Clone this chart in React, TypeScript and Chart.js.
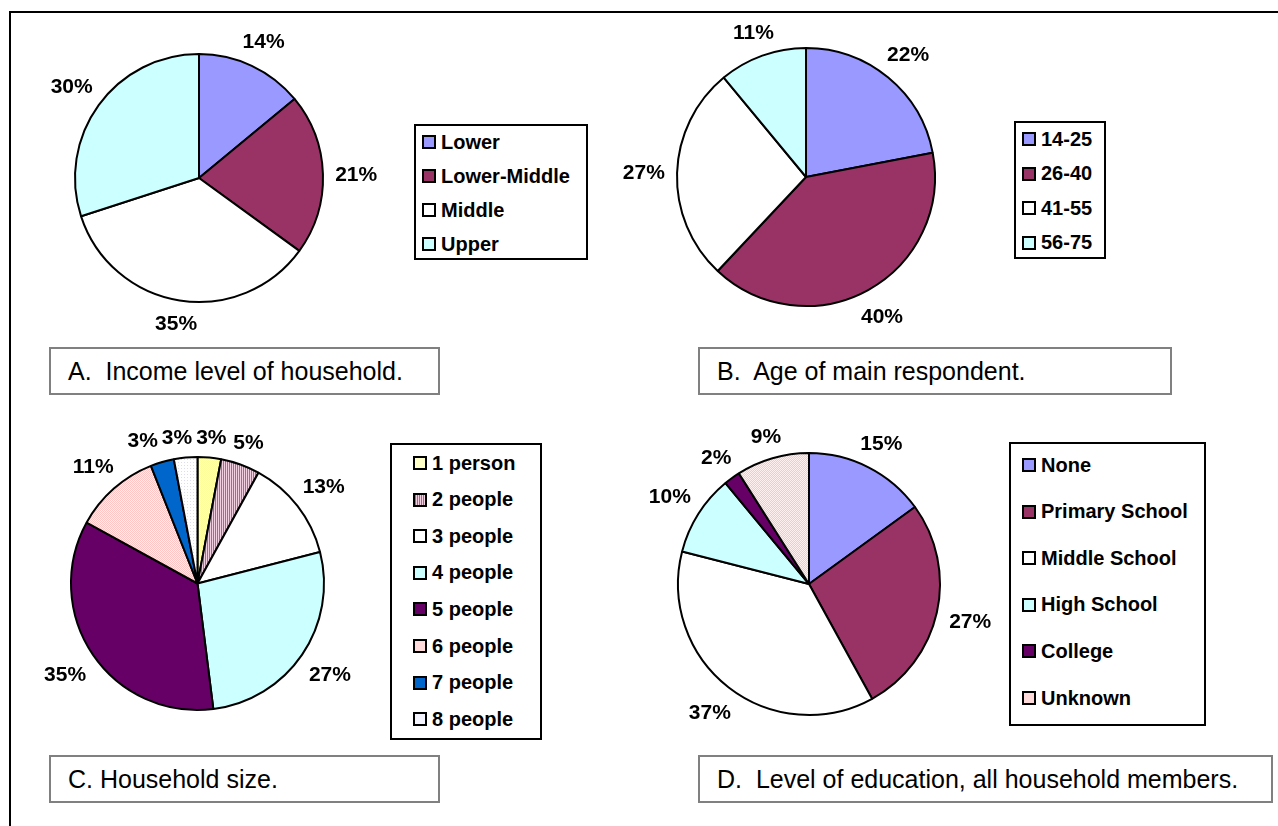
import React, { useEffect, useRef } from 'react';
import { Chart, registerables } from 'chart.js';

Chart.register(...registerables);

// ---------- data ----------
const incomeLabels = ['Lower', 'Lower-Middle', 'Middle', 'Upper'];
const incomeValues = [14, 21, 35, 30];

const ageLabels = ['14-25', '26-40', '41-55', '56-75'];
const ageValues = [22, 40, 27, 11];

const sizeLabels = ['1 person', '2 people', '3 people', '4 people', '5 people', '6 people', '7 people', '8 people'];
const sizeValues = [3, 5, 13, 27, 35, 11, 3, 3];

const eduLabels = ['None', 'Primary School', 'Middle School', 'High School', 'College', 'Unknown'];
const eduValues = [15, 27, 37, 10, 2, 9];

const captionA = 'A.  Income level of household.';
const captionB = 'B.  Age of main respondent.';
const captionC = 'C. Household size.';
const captionD = 'D.  Level of education, all household members.';

// ---------- styles ----------
const incomeFills = ['#9999FF', '#993366', '#FFFFFF', '#CCFFFF'];
const ageFills = ['#9999FF', '#993366', '#FFFFFF', '#CCFFFF'];
const sizeFills = ['pat:yellow', 'pat:stripes', '#FFFFFF', '#CCFFFF', '#660066', 'pat:pink', '#0066CC', 'pat:dots'];
const eduFills = ['#9999FF', '#993366', '#FFFFFF', '#CCFFFF', '#660066', 'pat:pink'];

const swatchCss: Record<string, string> = {
  'pat:yellow': '#FFFFC8',
  'pat:stripes': 'repeating-linear-gradient(90deg, #B8608C 0px 1px, #F2D0E2 1px 2px)',
  'pat:pink': '#FFDADA',
  'pat:dots': '#F4F4FF',
};

const FONT = '"Liberation Sans", Arial, Helvetica, sans-serif';

function makePattern(key: string): CanvasPattern | string {
  const c = document.createElement('canvas');
  const ctx = c.getContext('2d');
  if (!ctx) return '#fff';
  if (key === 'yellow') {
    c.width = 2; c.height = 2;
    ctx.fillStyle = '#FFFFE8'; ctx.fillRect(0, 0, 2, 2);
    ctx.fillStyle = '#FFFF99'; ctx.fillRect(0, 0, 1, 1); ctx.fillRect(1, 1, 1, 1);
  } else if (key === 'stripes') {
    c.width = 2; c.height = 1;
    ctx.fillStyle = '#B8608C'; ctx.fillRect(0, 0, 1, 1);
    ctx.fillStyle = '#F2D0E2'; ctx.fillRect(1, 0, 1, 1);
  } else if (key === 'pink') {
    c.width = 2; c.height = 2;
    ctx.fillStyle = '#FFF0F0'; ctx.fillRect(0, 0, 2, 2);
    ctx.fillStyle = '#FFC4C4'; ctx.fillRect(0, 0, 1, 1); ctx.fillRect(1, 1, 1, 1);
  } else {
    c.width = 3; c.height = 3;
    ctx.fillStyle = '#FFFFFF'; ctx.fillRect(0, 0, 3, 3);
    ctx.fillStyle = '#DCDCF4'; ctx.fillRect(0, 0, 1, 1);
  }
  return ctx.createPattern(c, 'repeat') || '#fff';
}

type LabelItem = { i: number; x: number; y: number; w: number; text: string };

const pctLabels = {
  id: 'pctLabels',
  afterDatasetsDraw(chart: any, _args: any, opts: any) {
    const ctx = chart.ctx as CanvasRenderingContext2D;
    const meta = chart.getDatasetMeta(0);
    const data = chart.data.datasets[0].data as number[];
    ctx.save();
    ctx.font = `bold 21px ${FONT}`;
    ctx.fillStyle = '#000';
    ctx.textAlign = 'center';
    ctx.textBaseline = 'alphabetic';
    const h = 15;
    let cx = 0;
    const items: LabelItem[] = meta.data.map((arc: any, i: number) => {
      const p = arc.getProps(['x', 'y', 'startAngle', 'endAngle', 'outerRadius'], true);
      cx = p.x;
      const a = (p.startAngle + p.endAngle) / 2;
      const text = `${data[i]}%`;
      const w = ctx.measureText(text).width;
      const proj = Math.abs(Math.cos(a)) * w / 2 + Math.abs(Math.sin(a)) * h / 2;
      const d = p.outerRadius + (opts.gap ?? 12) + proj;
      return { i, x: p.x + Math.cos(a) * d, y: p.y + Math.sin(a) * d, w, text };
    });
    // simple overlap avoidance: right side clockwise, left side counter-clockwise
    const placed: LabelItem[] = [];
    const pad = 4;
    const hits = (a: LabelItem, b: LabelItem) =>
      Math.abs(a.x - b.x) < (a.w + b.w) / 2 + pad && Math.abs(a.y - b.y) < h + 2;
    const right = items.filter((it) => it.x >= cx);
    const left = items.filter((it) => it.x < cx).reverse();
    for (const it of right) {
      for (let k = 0; k < 5; k++) {
        let moved = false;
        for (const q of placed) {
          if (hits(it, q)) { it.x = q.x + (q.w + it.w) / 2 + pad; moved = true; }
        }
        if (!moved) break;
      }
      placed.push(it);
    }
    for (const it of left) {
      for (let k = 0; k < 5; k++) {
        let moved = false;
        for (const q of placed) {
          if (hits(it, q)) { it.x = q.x - (q.w + it.w) / 2 - pad; moved = true; }
        }
        if (!moved) break;
      }
      placed.push(it);
    }
    for (const it of items) ctx.fillText(it.text, it.x, it.y + h / 2);
    ctx.restore();
  },
};

type PieProps = { cx: number; cy: number; r: number; labels: string[]; values: number[]; fills: string[] };

function Pie({ cx, cy, r, labels, values, fills }: PieProps) {
  const ref = useRef<HTMLCanvasElement | null>(null);
  const W = Math.round(2 * (r + 64));
  const H = Math.round(2 * (r + 40));
  useEffect(() => {
    if (!ref.current) return;
    const bg = fills.map((f) => (f.startsWith('pat:') ? makePattern(f.slice(4)) : f));
    const chart = new Chart(ref.current, {
      type: 'pie',
      data: {
        labels,
        datasets: [{ data: values, backgroundColor: bg as any, borderColor: '#000', borderWidth: 2, radius: r } as any],
      },
      options: {
        animation: false,
        responsive: false,
        layout: { padding: 0 },
        plugins: { legend: { display: false }, tooltip: { enabled: false }, pctLabels: { gap: 12 } } as any,
      },
      plugins: [pctLabels as any],
    });
    return () => chart.destroy();
  }, []);
  return (
    <canvas
      ref={ref}
      width={W}
      height={H}
      style={{ position: 'absolute', left: cx - W / 2, top: cy - H / 2, width: W, height: H }}
    />
  );
}

type LegendProps = {
  left: number; top: number; width: number; height: number;
  firstY: number; rowH: number; padLeft: number;
  labels: string[]; fills: string[];
};

function Legend({ left, top, width, height, firstY, rowH, padLeft, labels, fills }: LegendProps) {
  return (
    <div style={{ position: 'absolute', left, top, width, height, boxSizing: 'border-box', border: '2px solid #000', background: '#fff' }}>
      {labels.map((l, i) => (
        <div
          key={i}
          style={{
            position: 'absolute', left: padLeft - 2, top: firstY + i * rowH - top - 2 - 12, height: 24,
            display: 'flex', alignItems: 'center', font: `bold 20px ${FONT}`, whiteSpace: 'nowrap', color: '#000',
          }}
        >
          <span
            style={{
              display: 'inline-block', width: 14, height: 14, boxSizing: 'border-box', border: '2px solid #000',
              background: swatchCss[fills[i]] || fills[i], marginRight: 5, flex: 'none',
            }}
          />
          {l}
        </div>
      ))}
    </div>
  );
}

function Caption({ left, top, width, text }: { left: number; top: number; width: number; text: string }) {
  return (
    <div
      style={{
        position: 'absolute', left, top, width, height: 48, boxSizing: 'border-box', border: '2px solid #808080',
        background: '#fff', font: `25px ${FONT}`, display: 'flex', alignItems: 'center', paddingLeft: 17,
        whiteSpace: 'pre', color: '#000',
      }}
    >
      {text}
    </div>
  );
}

export default function App() {
  return (
    <div style={{ position: 'absolute', left: 0, top: 0, width: 1278, height: 826, background: '#fff', overflow: 'hidden' }}>
      <div style={{ position: 'absolute', left: 9, top: 11, width: 1300, height: 900, borderTop: '2px solid #000', borderLeft: '2px solid #000' }} />

      <Legend left={414} top={124} width={174} height={136} firstY={142} rowH={34} padLeft={8} labels={incomeLabels} fills={incomeFills} />
      <Legend left={1014} top={121} width={92} height={138} firstY={139} rowH={34.6} padLeft={8} labels={ageLabels} fills={ageFills} />
      <Legend left={390} top={443} width={152} height={297} firstY={463} rowH={36.6} padLeft={23} labels={sizeLabels} fills={sizeFills} />
      <Legend left={1009} top={442} width={197} height={284} firstY={465} rowH={46.6} padLeft={13} labels={eduLabels} fills={eduFills} />

      <Caption left={49} top={347} width={391} text={captionA} />
      <Caption left={698} top={347} width={474} text={captionB} />
      <Caption left={49} top={755} width={391} text={captionC} />
      <Caption left={698} top={755} width={575} text={captionD} />

      <Pie cx={199} cy={178} r={124} labels={incomeLabels} values={incomeValues} fills={incomeFills} />
      <Pie cx={806} cy={177} r={129} labels={ageLabels} values={ageValues} fills={ageFills} />
      <Pie cx={197.5} cy={583} r={126.5} labels={sizeLabels} values={sizeValues} fills={sizeFills} />
      <Pie cx={809} cy={584} r={131} labels={eduLabels} values={eduValues} fills={eduFills} />
    </div>
  );
}
